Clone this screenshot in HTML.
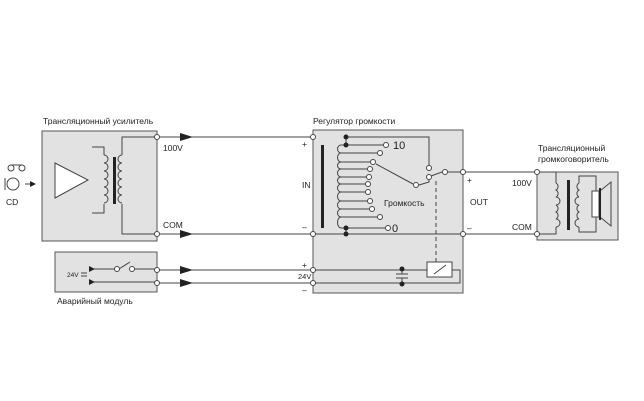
<!DOCTYPE html>
<html><head><meta charset="utf-8"><style>
body{margin:0;background:#fff}
svg{display:block}
text{font-family:"Liberation Sans",sans-serif;fill:#222}
</style></head><body>
<svg width="644" height="401" viewBox="0 0 644 401" xmlns="http://www.w3.org/2000/svg">
<g stroke="#555" stroke-width="1">
<rect x="42" y="131" width="115" height="110" fill="#e2e2e2"/>
<rect x="55" y="252" width="102" height="40" fill="#e2e2e2"/>
<rect x="313" y="130" width="150" height="163" fill="#e2e2e2"/>
<rect x="537" y="172" width="81" height="68" fill="#e2e2e2"/>
</g>
<g fill="none" stroke="#444" stroke-width="1">
<line x1="157" y1="137" x2="313" y2="137"/>
<line x1="157" y1="234" x2="313" y2="234"/>
<line x1="157" y1="270" x2="313" y2="270"/>
<line x1="157" y1="283" x2="313" y2="283"/>
<line x1="313" y1="234" x2="463" y2="234"/>
<line x1="463" y1="172" x2="537" y2="172"/>
<line x1="463" y1="234" x2="537" y2="234"/>
<polygon points="55,163 55,198 88,180" fill="#fff"/>
<polyline points="92,147 104,147 104,155"/>
<polyline points="104,204 104,213 92,213"/>
<path d="M104,155 a4,4 0 0 1 0,8 a4,4 0 0 1 0,8 a4,4 0 0 1 0,8 a4,4 0 0 1 0,8 a4,4 0 0 1 0,8 a4,4 0 0 1 0,8"/>
<polyline points="157,137 122,137 122,155"/>
<polyline points="122,204 122,234 157,234"/>
<path d="M122,155 a4,4 0 0 0 0,8 a4,4 0 0 0 0,8 a4,4 0 0 0 0,8 a4,4 0 0 0 0,8 a4,4 0 0 0 0,8 a4,4 0 0 0 0,8"/>
<circle cx="11" cy="168" r="3"/><circle cx="22" cy="168" r="3"/>
<line x1="11" y1="165" x2="22" y2="165"/>
<circle cx="13" cy="184" r="6"/><line x1="5" y1="178" x2="5" y2="190"/>
<line x1="25" y1="184" x2="33" y2="184"/>
<line x1="92" y1="269" x2="115" y2="269"/>
<line x1="119" y1="269" x2="130" y2="262"/>
<line x1="134" y1="269" x2="157" y2="269"/>
<line x1="92" y1="282" x2="157" y2="282"/>
<line x1="81" y1="273" x2="87" y2="273"/><line x1="81" y1="276" x2="87" y2="276"/>
<line x1="346" y1="137" x2="346" y2="145"/>
<line x1="346" y1="228" x2="346" y2="234"/>
<polyline points="346,137 429,137 429,166"/>
<path d="M346,145 L341,145 a3.5,4 0 0 0 0,8 a3.5,4.5 0 0 0 0,9 a3.5,3.5 0 0 0 0,7 a3.5,4 0 0 0 0,8 a3.5,3.5 0 0 0 0,7 a3.5,4 0 0 0 0,8 a3.5,4.5 0 0 0 0,9 a3.5,4 0 0 0 0,8 a3.5,4 0 0 0 0,8 a3.5,5.5 0 0 0 0,11 L346,228"/>
<line x1="346" y1="145" x2="383" y2="145"/>
<line x1="341" y1="153" x2="377" y2="153"/>
<line x1="341" y1="162" x2="370" y2="162"/>
<line x1="341" y1="169" x2="367" y2="169"/>
<line x1="341" y1="177" x2="366" y2="177"/>
<line x1="341" y1="184" x2="365" y2="184"/>
<line x1="341" y1="192" x2="365" y2="192"/>
<line x1="341" y1="201" x2="367" y2="201"/>
<line x1="341" y1="209" x2="369" y2="209"/>
<line x1="341" y1="217" x2="377" y2="217"/>
<line x1="346" y1="228" x2="385" y2="228"/>
<line x1="376" y1="164" x2="413" y2="184"/>
<polyline points="419,185 429,182 429,180"/>
<line x1="431" y1="176" x2="442" y2="172"/>
<line x1="448" y1="172" x2="463" y2="172"/>
<line x1="436" y1="181" x2="436" y2="262" stroke-dasharray="4,3"/>
<rect x="427" y="262" width="25" height="15" fill="#fff"/>
<line x1="434" y1="274" x2="446" y2="265"/>
<line x1="313" y1="270" x2="427" y2="270"/>
<polyline points="452,270 460,270 460,283 313,283"/>
<line x1="402" y1="270" x2="402" y2="274"/><line x1="402" y1="278" x2="402" y2="283"/>
<line x1="396" y1="274" x2="408" y2="274"/><line x1="396" y1="278" x2="408" y2="278"/>
<polyline points="537,172 556,172 556,183"/>
<polyline points="556,227 556,234 537,234"/>
<path d="M556,183 a4,4 0 0 1 0,7 a4,4 0 0 1 0,7 a4,4 0 0 1 0,8 a4,4 0 0 1 0,7 a4,4 0 0 1 0,7 a4,4 0 0 1 0,8"/>
<polyline points="579,183 579,176 596,176 596,191"/>
<polyline points="579,227 579,232 596,232 596,217"/>
<path d="M579,183 a4,4 0 0 0 0,7 a4,4 0 0 0 0,7 a4,4 0 0 0 0,8 a4,4 0 0 0 0,7 a4,4 0 0 0 0,7 a4,4 0 0 0 0,8"/>
<rect x="592" y="191" width="7" height="26" fill="#fff"/>
<polyline points="600,191 611,182 611,226 600,217"/>
</g>
<g fill="#222">
<rect x="321" y="145" width="3" height="83"/>
<rect x="113" y="157" width="3" height="47"/>
<rect x="567" y="180" width="3" height="50"/>
<rect x="599" y="188" width="2" height="32"/>
<polygon points="36,184 30,181 30,187"/>
<polygon points="180,133 193,137 180,141"/>
<polygon points="180,230 193,234 180,238"/>
<polygon points="180,266 193,270 180,274"/>
<polygon points="180,279 193,283 180,287"/>
<polygon points="89,266 95,269 89,272"/>
<polygon points="89,279 95,282 89,285"/>
<circle cx="346" cy="137" r="2.5"/><circle cx="346" cy="145" r="2.5"/>
<circle cx="346" cy="228" r="2.5"/><circle cx="346" cy="234" r="2.5"/>
<circle cx="402" cy="269" r="2.5"/><circle cx="402" cy="284" r="2.5"/>
</g>
<g fill="#fff" stroke="#444" stroke-width="1">
<circle cx="157" cy="137" r="2.5"/><circle cx="157" cy="234" r="2.5"/>
<circle cx="157" cy="270" r="2.5"/><circle cx="157" cy="283" r="2.5"/>
<circle cx="313" cy="137" r="2.5"/><circle cx="313" cy="234" r="2.5"/>
<circle cx="313" cy="270" r="2.5"/><circle cx="313" cy="283" r="2.5"/>
<circle cx="463" cy="172" r="2.5"/><circle cx="463" cy="234" r="2.5"/>
<circle cx="537" cy="172" r="2.5"/><circle cx="537" cy="234" r="2.5"/>
<circle cx="117" cy="269" r="2.5"/><circle cx="132" cy="269" r="2.5"/>
<circle cx="386" cy="145" r="2.5"/><circle cx="380" cy="153" r="2.5"/>
<circle cx="373" cy="162" r="2.5"/><circle cx="370" cy="169" r="2.5"/>
<circle cx="369" cy="177" r="2.5"/><circle cx="368" cy="184" r="2.5"/>
<circle cx="368" cy="192" r="2.5"/><circle cx="370" cy="201" r="2.5"/>
<circle cx="372" cy="209" r="2.5"/><circle cx="380" cy="217" r="2.5"/>
<circle cx="388" cy="228" r="2.5"/>
<circle cx="416" cy="185" r="2.5"/>
<circle cx="429" cy="168" r="2.5"/><circle cx="429" cy="177" r="2.5"/>
<circle cx="445" cy="172" r="2.5"/>
</g>
<g font-size="8.5">
<text x="43" y="124">Трансляционный усилитель</text>
<text x="313" y="124">Регулятор громкости</text>
<text x="538" y="151">Трансляционный</text>
<text x="538" y="162">громкоговоритель</text>
<text x="57" y="304">Аварийный модуль</text>
<text x="6" y="205">CD</text>
<text x="163" y="151">100V</text>
<text x="163" y="228">COM</text>
<text x="302" y="188">IN</text>
<text x="470" y="205">OUT</text>
<text x="512" y="186">100V</text>
<text x="512" y="230">COM</text>
<text x="384" y="206">Громкость</text>
<text x="302" y="147">+</text>
<text x="302" y="230">–</text>
<text x="467" y="183">+</text>
<text x="467" y="231">–</text>
<text x="302" y="268">+</text>
<text x="302" y="293">–</text>
<text x="298" y="279" font-size="7.5">24V</text>
<text x="67" y="277" font-size="6.5">24V</text>
</g>
<text x="393" y="149" font-size="11">10</text>
<text x="392" y="232" font-size="11">0</text>
</svg>
</body></html>
